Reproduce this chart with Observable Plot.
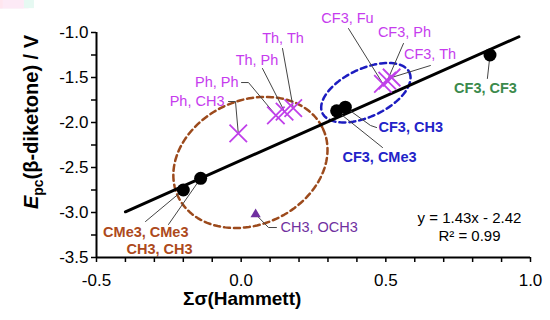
<!DOCTYPE html>
<html>
<head>
<meta charset="utf-8">
<script src="https://cdn.jsdelivr.net/npm/d3@7"></script>
<script src="https://cdn.jsdelivr.net/npm/@observablehq/plot@0.6"></script>
<style>
  html, body { margin: 0; padding: 0; background: #fff; }
  #chart { width: 550px; height: 320px; }
</style>
</head>
<body>
<div id="chart"></div>
<script>
// ---- data ----
const fitNames = ["CMe3, CMe3", "CH3, CH3", "CF3, CMe3", "CF3, CH3", "CF3, CF3"];
const fitX = [-0.20, -0.14, 0.33, 0.36, 0.86];
const fitY = [-2.75, -2.62, -1.87, -1.83, -1.25];

const arNames = ["Ph, CH3", "Ph, Ph", "Th, Ph", "Th, Th", "CF3, Fu", "CF3, Ph", "CF3, Th"];
const arX = [-0.01, 0.12, 0.15, 0.18, 0.49, 0.505, 0.52];
const arY = [-2.12, -1.92, -1.88, -1.84, -1.57, -1.535, -1.50];

const triNames = ["CH3, OCH3"];
const triX = [0.05];
const triY = [-3.02];

const fitSlope = 1.43, fitIntercept = -2.42;
const fitXRange = [-0.40, 0.96];
const eqnLines = ["y = 1.43x - 2.42", "R\u00b2 = 0.99"];

const xTickValues = [-0.5, -0.4, -0.3, -0.2, -0.1, 0.0, 0.1, 0.2, 0.3, 0.4, 0.5, 0.6, 0.7, 0.8, 0.9, 1.0];
const xTickLabels = ["-0.5", "", "", "", "", "0.0", "", "", "", "", "0.5", "", "", "", "", "1.0"];
const yTickValues = [-3.5, -3.25, -3.0, -2.75, -2.5, -2.25, -2.0, -1.75, -1.5, -1.25, -1.0];
const yTickLabels = ["-3.5", "", "-3.0", "", "-2.5", "", "-2.0", "", "-1.5", "", "-1.0"];

// ---- layout of annotations (data units) ----
const MAG = "#c63cee", BLUE = "#2323c8", BROWN = "#ad4a1c", GREEN = "#3b8a4c", PURP = "#7030a0";
const PINK_BG = "#fdeaf6", ROSE_BG = "#ffe6ef", MINT_BG = "#e6f9f2";
const labels = [
  {name: "CF3, Fu",   lx: 0.3675, ly: -0.844, anchor: "middle", color: MAG,  bold: false, bg: PINK_BG, lead: [[0.49, -1.57], [0.371, -0.956]]},
  {name: "CF3, Ph",   lx: 0.5645, ly: -1.000, anchor: "middle", color: MAG,  bold: false, bg: PINK_BG, lead: [[0.505, -1.535], [0.561, -1.122]]},
  {name: "CF3, Th",   lx: 0.6527, ly: -1.244, anchor: "middle", color: MAG,  bold: false, bg: PINK_BG, lead: [[0.52, -1.50], [0.654, -1.367]]},
  {name: "CF3, CF3",  lx: 0.8445, ly: -1.622, anchor: "middle", color: GREEN, bold: true, bg: MINT_BG, lead: [[0.86, -1.25], [0.851, -1.511]]},
  {name: "CF3, CH3",  lx: 0.4747, ly: -2.056, anchor: "start",  color: BLUE, bold: true,  bg: null, lead: [[0.36, -1.83], [0.447, -2.033], [0.468, -2.056]]},
  {name: "CF3, CMe3", lx: 0.350,  ly: -2.389, anchor: "start",  color: BLUE, bold: true,  bg: null, lead: [[0.33, -1.87], [0.4885, -2.278]]},
  {name: "Ph, CH3",   lx: -0.0576, ly: -1.767, anchor: "end",   color: MAG,  bold: false, bg: PINK_BG, lead: [[-0.01, -2.12], [-0.0196, -1.767], [-0.0438, -1.767]]},
  {name: "Ph, Ph",    lx: -0.0092, ly: -1.556, anchor: "end",   color: MAG,  bold: false, bg: PINK_BG, lead: [[0.12, -1.92], [0.0253, -1.556], [0.0012, -1.556]]},
  {name: "Th, Ph",    lx: 0.0547, ly: -1.311, anchor: "middle", color: MAG,  bold: false, bg: PINK_BG, lead: [[0.15, -1.88], [0.0737, -1.40]]},
  {name: "Th, Th",    lx: 0.1446, ly: -1.067, anchor: "middle", color: MAG,  bold: false, bg: PINK_BG, lead: [[0.18, -1.84], [0.1429, -1.178]]},
  {name: "CMe3, CMe3", lx: -0.182, ly: -3.222, anchor: "end",   color: BROWN, bold: true, bg: ROSE_BG, lead: [[-0.20, -2.75], [-0.3306, -3.10]]},
  {name: "CH3, CH3",  lx: -0.168, ly: -3.411, anchor: "end",    color: BROWN, bold: true, bg: ROSE_BG, lead: [[-0.14, -2.62], [-0.2511, -3.133]]},
  {name: "CH3, OCH3", lx: 0.136,  ly: -3.167, anchor: "start",  color: PURP, bold: false, bg: null, lead: [[0.05, -3.02], [0.0945, -3.167], [0.122, -3.167]]}
];

// ellipses: center + two semi-axis vectors (data units)
const ellipses = [
  {id: "brown", cx: 0.032, cy: -2.444, ux: 0.2506, uy: 0.3756, vx: 0.0906, vy: -0.624, color: "#9c4a1c"},
  {id: "blue",  cx: 0.431, cy: -1.669, ux: 0.1504, uy: 0.2256, vx: 0.0351, vy: -0.2415, color: "#1c1cc0"}
];

// ---- build tables ----
const fitPts = fitNames.map((n, i) => ({n, x: fitX[i], y: fitY[i]}));
const arPts = arNames.map((n, i) => ({n, x: arX[i], y: arY[i]}));
const triPts = triNames.map((n, i) => ({n, x: triX[i], y: triY[i]}));
const fitLine = fitXRange.map(x => ({x, y: fitSlope * x + fitIntercept}));
const leadPts = labels.flatMap((l, k) => l.lead.map(([x, y]) => ({k, x, y})));
const ellPts = ellipses.flatMap(e => d3.range(0, 121).map(i => {
  const t = (i / 120) * 2 * Math.PI;
  return {id: e.id, x: e.cx + Math.cos(t) * e.ux + Math.sin(t) * e.vx, y: e.cy + Math.cos(t) * e.uy + Math.sin(t) * e.vy};
}));

const FONT = "Arial, 'Liberation Sans', sans-serif";

const labelMarks = labels.map((l, k) => Plot.text([l], {
  x: "lx", y: "ly", text: "name", textAnchor: l.anchor, lineAnchor: "middle",
  fill: l.color, fontSize: 14.5, fontWeight: l.bold ? "bold" : "normal",
  className: "lbl-" + k
}));

const chart = Plot.plot({
  width: 550, height: 320,
  marginLeft: 96, marginRight: 20, marginTop: 32, marginBottom: 63,
  x: {domain: [-0.5, 1.0]},
  y: {domain: [-3.5, -1.0]},
  style: {fontFamily: FONT, background: "#fff", color: "#000", overflow: "visible"},
  marks: [
    ...ellipses.map(e => Plot.line(ellPts.filter(p => p.id === e.id), {
      x: "x", y: "y", stroke: e.color, strokeWidth: 2.5, strokeDasharray: "6,4", curve: "linear"
    })),
    Plot.line(fitLine, {x: "x", y: "y", stroke: "#000", strokeWidth: 3}),
    Plot.line(leadPts, {x: "x", y: "y", z: "k", stroke: "#444", strokeWidth: 1}),
    Plot.dot(fitPts, {x: "x", y: "y", r: 6.5, fill: "#000", stroke: "none"}),
    Plot.dot(arPts, {x: "x", y: "y", r: 8, symbol: "times", stroke: "#c040ea", strokeWidth: 1.8}),
    Plot.dot(triPts, {x: "x", y: "y", r: 3.8, symbol: "triangle", fill: PURP, stroke: "none"}),
    ...labelMarks,
    Plot.text(eqnLines, {x: [0.789, 0.789], y: [-3.067, -3.267], text: d => d, textAnchor: "middle", lineAnchor: "middle", fontSize: 15, fill: "#000"}),
    Plot.axisY(yTickValues, {tickSize: 5, tickPadding: 3, tickFormat: (d, i) => yTickLabels[i], fontSize: 17, strokeWidth: 1.5, label: null, fill: "#000"}),
    Plot.axisX(xTickValues, {tickSize: 5, tickPadding: 11, tickFormat: (d, i) => xTickLabels[i], fontSize: 17, strokeWidth: 1.5, label: null, fill: "#000"}),
    Plot.ruleX([-0.5], {stroke: "#000", strokeWidth: 2}),
    Plot.ruleY([-3.5], {stroke: "#000", strokeWidth: 2})
  ]
});

// axis titles as real SVG text
const svg = d3.select(chart);
svg.append("text")
  .attr("x", 183).attr("y", 305)
  .attr("text-anchor", "start")
  .attr("font-family", FONT).attr("font-size", 19).attr("font-weight", "bold").attr("fill", "#000")
  .text("\u03a3\u03c3(Hammett)");
const yt = svg.append("text")
  .attr("transform", "translate(38,122) rotate(-90)")
  .attr("text-anchor", "middle")
  .attr("font-family", FONT).attr("font-size", 20).attr("font-weight", "bold").attr("fill", "#000");
yt.append("tspan").attr("font-style", "italic").text("E");
yt.append("tspan").attr("font-size", 14).attr("dy", 5).text("pc");
yt.append("tspan").attr("dy", -5).text("(\u03b2-diketone) / V");

document.getElementById("chart").appendChild(chart);

// light highlight boxes behind some labels (as in the source figure)
labels.forEach((l, k) => {
  if (!l.bg) return;
  svg.selectAll(".lbl-" + k + " text").each(function () {
    const b = this.getBBox();
    d3.select(this.parentNode).insert("rect", "text")
      .attr("x", b.x - 2).attr("y", b.y).attr("width", b.width + 4).attr("height", b.height)
      .attr("fill", l.bg).attr("stroke", "none");
  });
});
</script>
</body>
</html>
